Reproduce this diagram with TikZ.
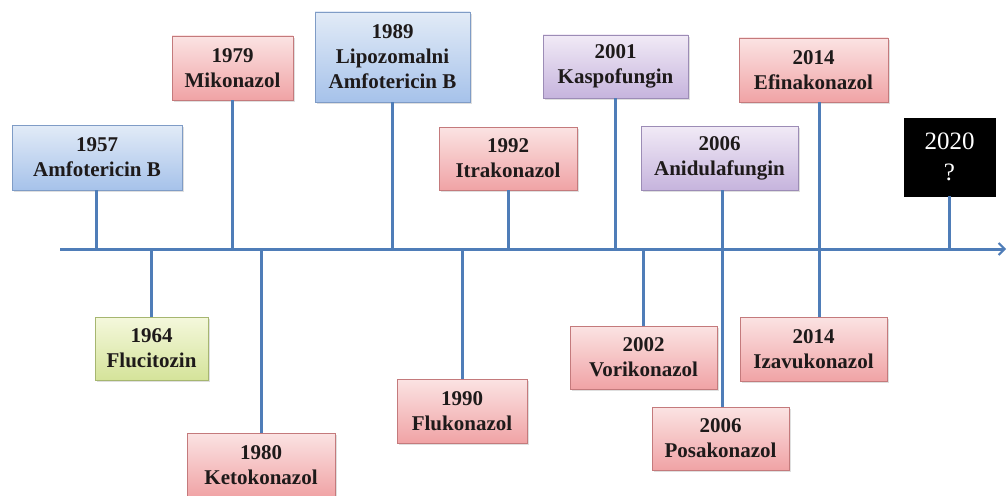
\documentclass[tikz,border=0pt]{standalone}
\usepackage{fontspec}
\setmainfont{Liberation Serif}
\usetikzlibrary{shadows,arrows.meta}
\definecolor{stem}{HTML}{4F7DB8}
\definecolor{bluetop}{HTML}{E2EBF7}
\definecolor{bluebot}{HTML}{A6C2EA}
\definecolor{blueedge}{HTML}{7F9CC6}
\definecolor{pinktop}{HTML}{FBE3E3}
\definecolor{pinkbot}{HTML}{F0A3A5}
\definecolor{pinkedge}{HTML}{C47A7C}
\definecolor{greentop}{HTML}{F4F8DC}
\definecolor{greenbot}{HTML}{D5E39A}
\definecolor{greenedge}{HTML}{A6B670}
\definecolor{purptop}{HTML}{F1EAF6}
\definecolor{purpbot}{HTML}{C6B4DD}
\definecolor{purpedge}{HTML}{9C8CB6}
\definecolor{txt}{HTML}{1E1A1A}
\tikzset{
  box/.style={draw, line width=0.8pt, inner sep=0pt, align=center,
    font=\fontsize{21}{25}\selectfont\bfseries, text=txt,
    drop shadow={opacity=0.25, shadow xshift=2pt, shadow yshift=-2pt}},
  bluebox/.style={box, draw=blueedge, top color=bluetop, bottom color=bluebot},
  pinkbox/.style={box, draw=pinkedge, top color=pinktop, bottom color=pinkbot},
  greenbox/.style={box, draw=greenedge, top color=greentop, bottom color=greenbot},
  purpbox/.style={box, draw=purpedge, top color=purptop, bottom color=purpbot},
  blackbox/.style={fill=black, draw=black, inner sep=0pt, align=center,
    font=\fontsize{25}{31}\selectfont, text=white},
  stemline/.style={draw=stem, line width=3pt},
  axisline/.style={draw=stem, line width=3pt, -{Straight Barb[length=6pt,width=12pt,line width=2pt]}}
}
\begin{document}
\begin{tikzpicture}[x=1pt,y=-1pt]
\useasboundingbox (0,0) rectangle (1008,495);
% axis coordinates
\coordinate (start) at (60,249);
\coordinate (end) at (1006,249);
\coordinate (a57) at (96,249);
\coordinate (a64) at (151,249);
\coordinate (a79) at (232,249);
\coordinate (a80) at (261,249);
\coordinate (a89) at (392,249);
\coordinate (a90) at (462,249);
\coordinate (a92) at (508,249);
\coordinate (a01) at (615,249);
\coordinate (a02) at (643,249);
\coordinate (a06) at (722,249);
\coordinate (a14) at (819,249);
\coordinate (a20) at (949,249);
% boxes above
\node[bluebox, minimum width=170, minimum height=65] (b57) at (97,157.5) {1957\\Amfotericin B};
\node[pinkbox, minimum width=121, minimum height=64] (b79) at (232.5,68) {1979\\Mikonazol};
\node[bluebox, minimum width=155, minimum height=90] (b89) at (392.5,57) {1989\\Lipozomalni\\Amfotericin B};
\node[pinkbox, minimum width=138, minimum height=63] (b92) at (508,158.5) {1992\\Itrakonazol};
\node[purpbox, minimum width=145, minimum height=63] (b01) at (615.5,66.5) {2001\\Kaspofungin};
\node[purpbox, minimum width=157, minimum height=64] (b06a) at (719.5,158) {2006\\Anidulafungin};
\node[pinkbox, minimum width=149, minimum height=64] (b14e) at (813.5,70) {2014\\Efinakonazol};
\node[blackbox, minimum width=91, minimum height=78] (b20) at (949.5,157) {2020\\?};
% boxes below
\node[greenbox, minimum width=113, minimum height=63] (b64) at (151.5,348.5) {1964\\Flucitozin};
\node[pinkbox, minimum width=148, minimum height=64] (b80) at (261,465) {1980\\Ketokonazol};
\node[pinkbox, minimum width=130, minimum height=64] (b90) at (462,411) {1990\\Flukonazol};
\node[pinkbox, minimum width=147, minimum height=63] (b02) at (643.5,357.5) {2002\\Vorikonazol};
\node[pinkbox, minimum width=137, minimum height=63] (b06p) at (720.5,438.5) {2006\\Posakonazol};
\node[pinkbox, minimum width=147, minimum height=64] (b14i) at (813.5,349) {2014\\Izavukonazol};
% stems
\draw[stemline] (b57.south -| a57) -- (a57);
\draw[stemline] (b79.south -| a79) -- (a79);
\draw[stemline] (b89.south -| a89) -- (a89);
\draw[stemline] (b92.south -| a92) -- (a92);
\draw[stemline] (b01.south -| a01) -- (a01);
\draw[stemline] (b06a.south -| a06) -- (b06p.north -| a06);
\draw[stemline] (b14e.south -| a14) -- (b14i.north -| a14);
\draw[stemline] (b20.south -| a20) -- (a20);
\draw[stemline] (a64) -- (b64.north -| a64);
\draw[stemline] (a80) -- (b80.north -| a80);
\draw[stemline] (a90) -- (b90.north -| a90);
\draw[stemline] (a02) -- (b02.north -| a02);
\draw[axisline] (start) -- (end);
\end{tikzpicture}
\end{document}
